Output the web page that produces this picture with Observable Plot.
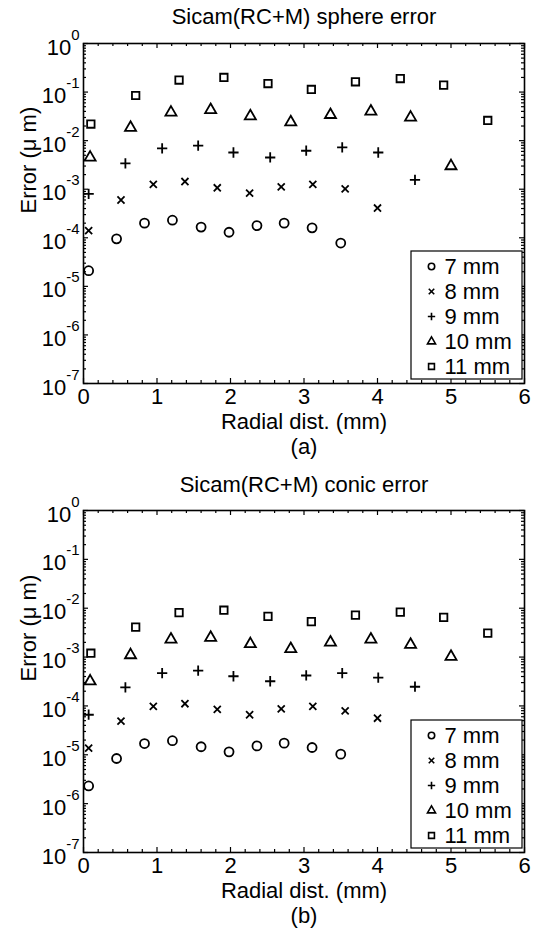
<!DOCTYPE html>
<html>
<head>
<meta charset="utf-8">
<script src="https://cdn.jsdelivr.net/npm/d3@7"></script>
<script src="https://cdn.jsdelivr.net/npm/@observablehq/plot@0.6"></script>
<style>
  html, body { margin: 0; padding: 0; background: #fff; }
  #chart { width: 536px; }
  #chart svg { display: block; }
</style>
</head>
<body>
<div id="chart"></div>
<script>
// ---------- data ----------
const seriesLabels = ["7 mm", "8 mm", "9 mm", "10 mm", "11 mm"];

const x7  = [0.07, 0.45, 0.83, 1.21, 1.60, 1.98, 2.36, 2.73, 3.11, 3.50];
const x8  = [0.07, 0.51, 0.95, 1.38, 1.82, 2.26, 2.69, 3.12, 3.56, 4.00];
const x9  = [0.07, 0.57, 1.07, 1.56, 2.04, 2.54, 3.03, 3.52, 4.01, 4.51];
const x10 = [0.09, 0.64, 1.19, 1.73, 2.27, 2.82, 3.36, 3.91, 4.45, 5.00];
const x11 = [0.10, 0.71, 1.30, 1.91, 2.51, 3.10, 3.70, 4.31, 4.90, 5.50];

// (a) sphere error
const sphere7  = [2.1e-5, 9.5e-5, 2.0e-4, 2.3e-4, 1.66e-4, 1.3e-4, 1.78e-4, 2.0e-4, 1.6e-4, 7.8e-5];
const sphere8  = [1.4e-4, 6.0e-4, 1.26e-3, 1.44e-3, 1.07e-3, 8.3e-4, 1.12e-3, 1.26e-3, 1.02e-3, 4.1e-4];
const sphere9  = [8.0e-4, 3.4e-3, 6.9e-3, 7.9e-3, 5.7e-3, 4.5e-3, 6.2e-3, 7.3e-3, 5.7e-3, 1.56e-3];
const sphere10 = [4.5e-3, 1.85e-2, 3.8e-2, 4.3e-2, 3.2e-2, 2.4e-2, 3.4e-2, 4.0e-2, 3.0e-2, 3.0e-3];
const sphere11 = [2.2e-2, 8.5e-2, 0.177, 0.20, 0.15, 0.113, 0.163, 0.19, 0.139, 2.6e-2];

// (b) conic error
const conic7  = [2.3e-6, 8.4e-6, 1.7e-5, 1.94e-5, 1.46e-5, 1.15e-5, 1.52e-5, 1.73e-5, 1.41e-5, 1.03e-5];
const conic8  = [1.37e-5, 4.9e-5, 9.8e-5, 1.11e-4, 8.5e-5, 6.6e-5, 8.7e-5, 9.8e-5, 7.9e-5, 5.6e-5];
const conic9  = [6.6e-5, 2.4e-4, 4.7e-4, 5.3e-4, 4.05e-4, 3.2e-4, 4.2e-4, 4.7e-4, 3.8e-4, 2.47e-4];
const conic10 = [3.2e-4, 1.1e-3, 2.3e-3, 2.5e-3, 1.85e-3, 1.47e-3, 2.0e-3, 2.3e-3, 1.8e-3, 1.02e-3];
const conic11 = [1.2e-3, 4.1e-3, 8.1e-3, 9.1e-3, 6.8e-3, 5.3e-3, 7.2e-3, 8.3e-3, 6.5e-3, 3.1e-3];

// ticks
const xTicks = [0, 1, 2, 3, 4, 5, 6];
const yTicks = [1e-7, 1e-6, 1e-5, 1e-4, 1e-3, 1e-2, 1e-1, 1];

const xsAll = [x7, x8, x9, x10, x11];

// ---------- styling ----------
const FONT = "'Liberation Sans', Arial, Helvetica, sans-serif";
const FS = 22;
const symbols   = ["circle", "times", "plus", "triangle", "square"];
const dataR     = [4.5, 3.3, 3.4, 4.1, 4.2];
const legendR   = [3.2, 2.6, 2.5, 3.0, 3.3];
const SW = 1.8;

const supMap = {"-": "⁻", "0": "⁰", "1": "¹", "2": "²", "3": "³", "4": "⁴", "5": "⁵", "6": "⁶", "7": "⁷", "8": "⁸", "9": "⁹"};
const unSup = Object.fromEntries(Object.entries(supMap).map(([k, v]) => [v, k]));

function makePanel({title, caption, ysAll, height, marginTop, marginBottom, titleDy}) {
  const marginLeft = 83, marginRight = 12, width = 536;
  const H = height - marginTop - marginBottom;
  const W = width - marginLeft - marginRight;

  const xMinor = d3.range(0, 6.001, 0.2).filter(v => Math.abs(v - Math.round(v)) > 1e-6);
  const yMinor = [];
  for (let e = -7; e < 0; e++) for (let m = 2; m <= 9; m++) yMinor.push(m * Math.pow(10, e));

  const marks = [];

  // data
  ysAll.forEach((ys, i) => {
    const rows = ys.map((v, j) => ({x: xsAll[i][j], y: v}));
    marks.push(Plot.dot(rows, {x: "x", y: "y", symbol: symbols[i], r: dataR[i], stroke: "black", fill: "none", strokeWidth: SW}));
  });

  // inward ticks (major + minor) on all four sides
  const majLen = 5, minLen = 3;
  marks.push(
    Plot.ruleX(xTicks, {x: d => d, insetTop: H - majLen, stroke: "black", strokeWidth: 1.2}),
    Plot.ruleX(xTicks, {x: d => d, insetBottom: H - majLen, stroke: "black", strokeWidth: 1.2}),
    Plot.ruleX(xMinor, {x: d => d, insetTop: H - minLen, stroke: "black", strokeWidth: 1.2}),
    Plot.ruleX(xMinor, {x: d => d, insetBottom: H - minLen, stroke: "black", strokeWidth: 1.2}),
    Plot.ruleY(yTicks, {y: d => d, insetRight: W - majLen, stroke: "black", strokeWidth: 1.2}),
    Plot.ruleY(yTicks, {y: d => d, insetLeft: W - majLen, stroke: "black", strokeWidth: 1.2}),
    Plot.ruleY(yMinor, {y: d => d, insetRight: W - minLen, stroke: "black", strokeWidth: 1.2}),
    Plot.ruleY(yMinor, {y: d => d, insetLeft: W - minLen, stroke: "black", strokeWidth: 1.2})
  );

  marks.push(Plot.frame({stroke: "black", strokeWidth: 1.6}));

  // axes labels
  marks.push(
    Plot.axisX({ticks: xTicks, tickSize: 0, tickPadding: 5, label: null, fontSize: FS, tickFormat: d => String(d)}),
    Plot.axisY({ticks: yTicks, tickSize: 0, tickPadding: 4, label: null, fontSize: FS,
      tickFormat: d => "10" + String(Math.round(Math.log10(d))).replace(/./g, c => supMap[c])})
  );

  // titles
  marks.push(
    Plot.text([title], {text: d => d, frameAnchor: "top", lineAnchor: "middle", dy: titleDy, fontSize: FS}),
    Plot.text(["Radial dist. (mm)"], {text: d => d, frameAnchor: "bottom", lineAnchor: "middle", dy: 38.5, fontSize: FS}),
    Plot.text([caption], {text: d => d, frameAnchor: "bottom", lineAnchor: "middle", dy: 63.5, fontSize: FS}),
    Plot.text(["Error (\u03bc m)"], {text: d => d, frameAnchor: "left", lineAnchor: "middle", dx: -55, rotate: -90, fontSize: FS})
  );

  // legend box
  marks.push((index, scales, values, dims) => {
    const right = dims.width - dims.marginRight;
    const bottom = dims.height - dims.marginBottom;
    return d3.create("svg:rect")
      .attr("x", right - 113).attr("y", bottom - 132)
      .attr("width", 111).attr("height", 128)
      .attr("fill", "white").attr("stroke", "black").attr("stroke-width", 1.2)
      .node();
  });
  const rowDy = [-117, -92, -67, -42, -17];
  seriesLabels.forEach((lab, i) => {
    marks.push(
      Plot.dot([lab], {frameAnchor: "bottom-right", dx: -93, dy: rowDy[i], symbol: symbols[i], r: legendR[i], stroke: "black", fill: "none", strokeWidth: 1.6}),
      Plot.text([lab], {text: d => d, frameAnchor: "bottom-right", lineAnchor: "middle", dx: -80, dy: rowDy[i], textAnchor: "start", fontSize: FS})
    );
  });

  const svg = Plot.plot({
    width, height, marginTop, marginBottom, marginLeft, marginRight,
    style: {fontFamily: FONT, fontSize: FS + "px", background: "white", color: "black", overflow: "visible"},
    x: {type: "linear", domain: [0, 6]},
    y: {type: "log", domain: [1e-7, 1]},
    marks
  });

  // superscript exponents on y tick labels
  d3.select(svg).selectAll('g[aria-label="y-axis tick label"] text').each(function () {
    const s = this.textContent;
    const exp = s.slice(2).split("").map(c => unSup[c] ?? c).join("");
    const t = d3.select(this);
    t.text(null);
    t.append("tspan").attr("dy", "4").text("10");
    t.append("tspan").attr("dy", "-15").attr("font-size", "15px").text(exp);
  });
  return svg;
}

const chart = document.getElementById("chart");
chart.appendChild(makePanel({
  title: "Sicam(RC+M) sphere error", caption: "(a)",
  ysAll: [sphere7, sphere8, sphere9, sphere10, sphere11],
  height: 464, marginTop: 43, marginBottom: 81, titleDy: -27
}));
chart.appendChild(makePanel({
  title: "Sicam(RC+M) conic error", caption: "(b)",
  ysAll: [conic7, conic8, conic9, conic10, conic11],
  height: 464, marginTop: 46, marginBottom: 76, titleDy: -26
}));
</script>
</body>
</html>
